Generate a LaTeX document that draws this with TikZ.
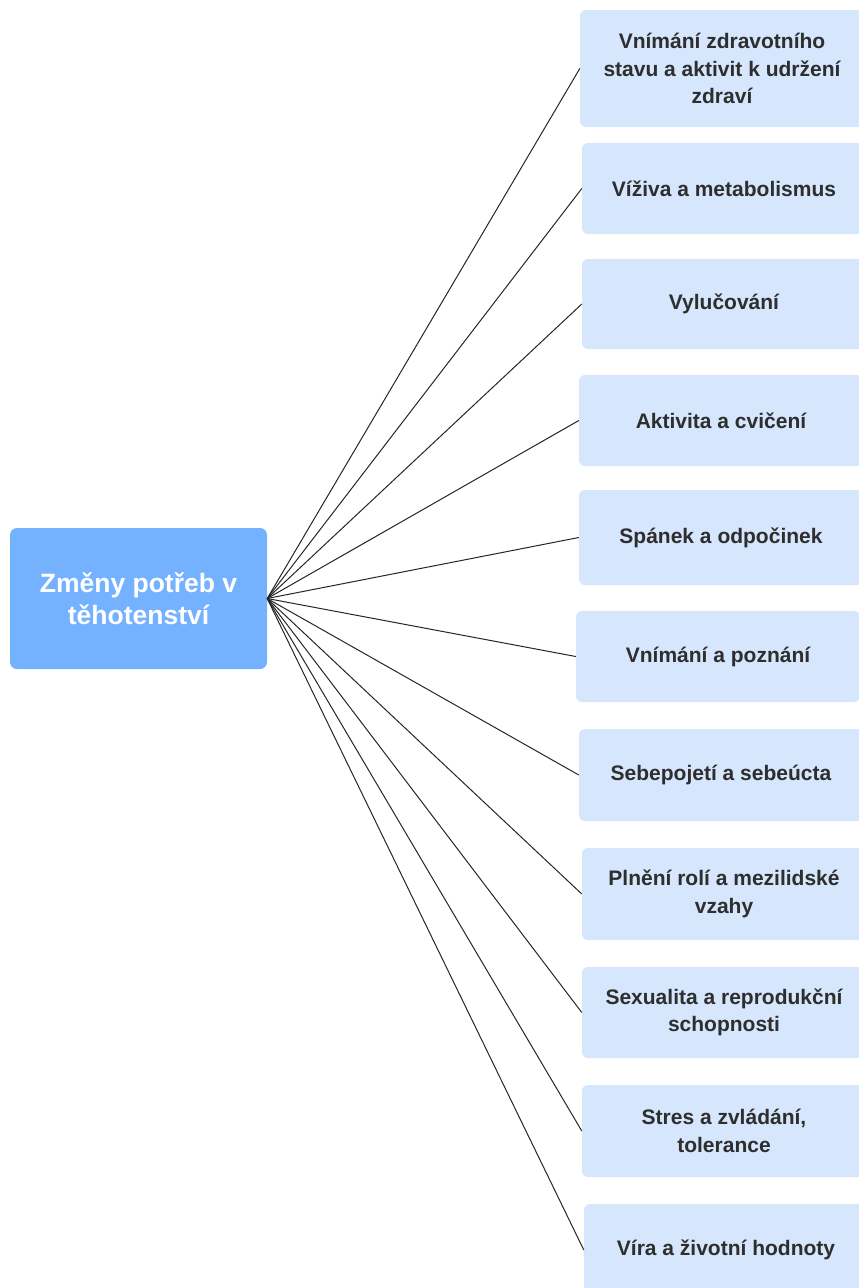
\documentclass[tikz,border=0pt]{standalone}
\usepackage{fontspec}
\setmainfont{Liberation Sans}
\usepackage{xcolor}
\usepackage{tikz}
\usetikzlibrary{positioning}
\definecolor{needfill}{HTML}{D6E6FC}
\definecolor{hubfill}{HTML}{74B1FF}
\definecolor{needtext}{HTML}{2E2E2E}

\begin{document}
\begin{tikzpicture}[x=1pt,y=-1pt,
  need/.style={fill=needfill,rounded corners=6pt,minimum width=284pt,align=center,text=needtext,font=\fontsize{21}{27.5}\selectfont\bfseries},
  hub/.style={fill=hubfill,rounded corners=7pt,minimum width=257pt,minimum height=141pt,align=center,text=white,font=\fontsize{26.5}{32}\selectfont\bfseries},
  link/.style={draw=black!85,line width=1pt}]
  \useasboundingbox (0,0) rectangle (859,1288);
  \clip (0,0) rectangle (859,1288);
  \node[hub] (hub) at (138.5,598.5) {Změny potřeb v\\ těhotenství};
  \node[need,minimum height=117pt] (n1) at (722,68.5) {Vnímání zdravotního\\ stavu a aktivit k udržení\\ zdraví};
  \node[need,minimum height=91pt] (n2) at (724,188.5) {Víživa a metabolismus};
  \node[need,minimum height=90pt] (n3) at (724,304) {Vylučování};
  \node[need,minimum height=91pt] (n4) at (721,420.5) {Aktivita a cvičení};
  \node[need,minimum height=95pt] (n5) at (721,537.5) {Spánek a odpočinek};
  \node[need,minimum height=91pt] (n6) at (718,656.5) {Vnímání a poznání};
  \node[need,minimum height=92pt] (n7) at (721,775) {Sebepojetí a sebeúcta};
  \node[need,minimum height=92pt] (n8) at (724,894) {Plnění rolí a mezilidské\\ vzahy};
  \node[need,minimum height=91pt] (n9) at (724,1012.5) {Sexualita a reprodukční\\ schopnosti};
  \node[need,minimum height=92pt] (n10) at (724,1131) {Stres a zvládání,\\ tolerance};
  \node[need,minimum height=92pt] (n11) at (726,1250) {Víra a životní hodnoty};
  \draw[link] (hub.east)--(n1.west);
  \draw[link] (hub.east)--(n2.west);
  \draw[link] (hub.east)--(n3.west);
  \draw[link] (hub.east)--(n4.west);
  \draw[link] (hub.east)--(n5.west);
  \draw[link] (hub.east)--(n6.west);
  \draw[link] (hub.east)--(n7.west);
  \draw[link] (hub.east)--(n8.west);
  \draw[link] (hub.east)--(n9.west);
  \draw[link] (hub.east)--(n10.west);
  \draw[link] (hub.east)--(n11.west);
\end{tikzpicture}
\end{document}
